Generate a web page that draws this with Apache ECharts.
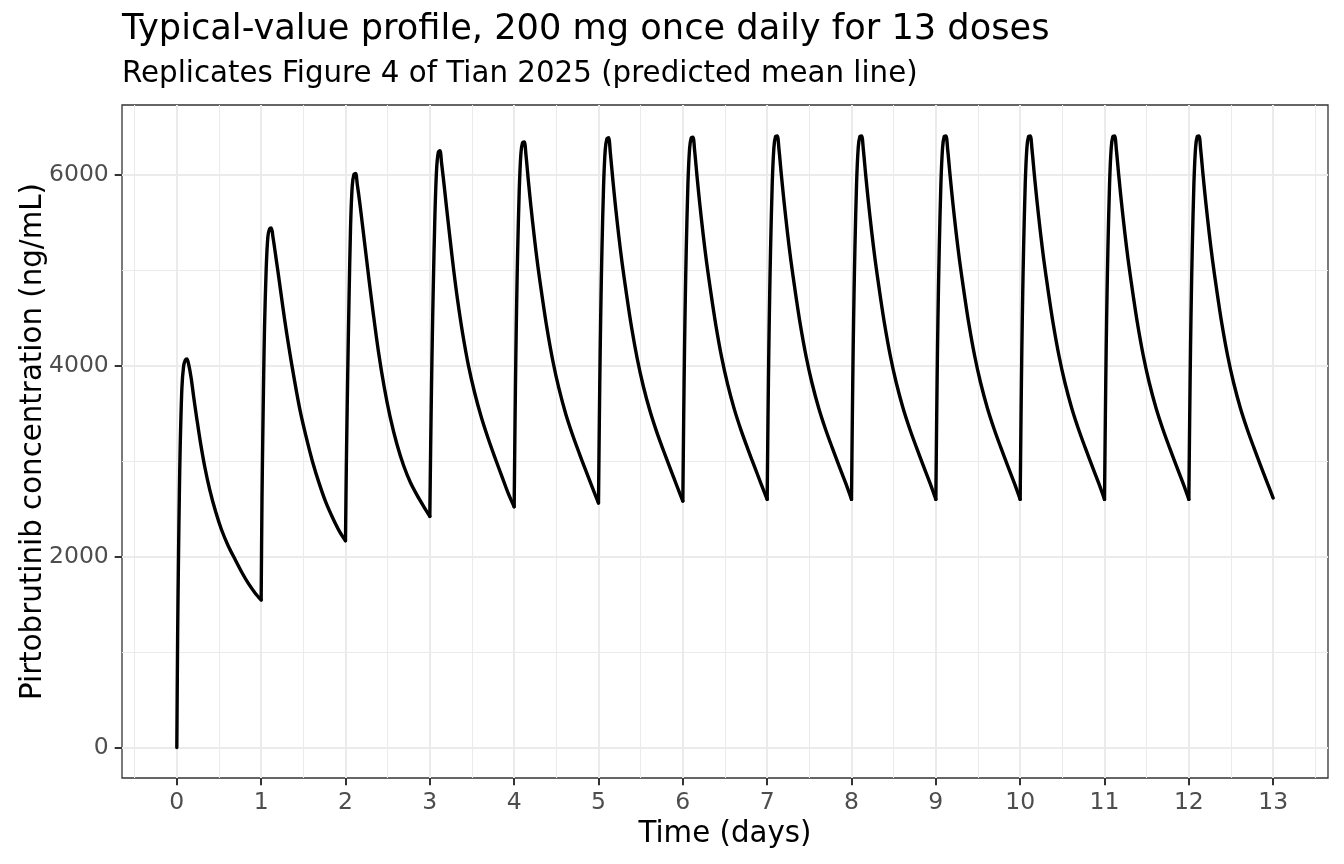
<!DOCTYPE html>
<html>
<head>
<meta charset="utf-8">
<title>Typical-value profile</title>
<script src="https://cdn.jsdelivr.net/npm/echarts@6/dist/echarts.min.js"></script>
<style>
  html, body { margin: 0; padding: 0; background: #fff; }
  #chart { width: 1344px; height: 864px; }
</style>
</head>
<body>
<div id="chart"></div>
<script>
// sample times inside each dosing interval (days after the dose)
const tau = [0, 0.01, 0.02, 0.03, 0.04, 0.06, 0.08, 0.10, 0.12, 0.14, 0.17, 0.20,
  0.24, 0.28, 0.33, 0.39, 0.46, 0.53, 0.61, 0.69, 0.77, 0.85, 0.93]

// day of each dose
const doseDays = [0, 1, 2, 3, 4, 5, 6, 7, 8, 9, 10, 11, 12]

// concentration (ng/mL), one row per dosing interval
const dose1 = [0, 1200, 2000, 2650, 3150, 3760, 3990, 4055, 4068, 4015, 3870, 3670, 3425, 3195, 2945, 2700, 2470, 2280, 2110, 1970, 1835, 1715, 1615]
const dose2 = [1545, 2600, 3300, 3900, 4400, 5020, 5350, 5430, 5440, 5345, 5165, 4978, 4722, 4470, 4185, 3870, 3535, 3265, 2990, 2760, 2560, 2400, 2260]
const dose3 = [2165, 2950, 3550, 4100, 4600, 5450, 5880, 6000, 6010, 5895, 5700, 5480, 5185, 4890, 4540, 4150, 3770, 3460, 3175, 2950, 2775, 2640, 2520]
const dose4 = [2420, 3150, 3780, 4320, 4780, 5560, 6050, 6230, 6250, 6115, 5885, 5640, 5325, 5020, 4680, 4330, 3990, 3720, 3460, 3240, 3040, 2850, 2660]
const dose5 = [2520, 3380, 4100, 4670, 5130, 5830, 6220, 6335, 6340, 6205, 5920, 5656, 5336, 5048, 4733, 4385, 4042, 3762, 3498, 3280, 3085, 2898, 2715]
const dose6 = [2560, 3420, 4150, 4715, 5175, 5875, 6260, 6375, 6385, 6232, 5945, 5680, 5360, 5073, 4758, 4410, 4068, 3788, 3525, 3305, 3110, 2922, 2738]
const dose7 = [2580, 3440, 4170, 4730, 5190, 5890, 6270, 6385, 6390, 6250, 5965, 5700, 5380, 5092, 4777, 4430, 4087, 3807, 3543, 3323, 3127, 2940, 2756]
const dose8 = [2598, 3455, 4185, 4745, 5205, 5905, 6285, 6400, 6405, 6265, 5980, 5716, 5396, 5108, 4793, 4445, 4102, 3822, 3558, 3338, 3142, 2954, 2770]
const dose9 = [2598, 3455, 4185, 4745, 5205, 5905, 6285, 6400, 6405, 6265, 5980, 5716, 5396, 5108, 4793, 4445, 4102, 3822, 3558, 3338, 3142, 2954, 2770]
const dose10 = [2598, 3455, 4185, 4745, 5205, 5905, 6285, 6400, 6405, 6265, 5980, 5716, 5396, 5108, 4793, 4445, 4102, 3822, 3558, 3338, 3142, 2954, 2770]
const dose11 = [2598, 3455, 4185, 4745, 5205, 5905, 6285, 6400, 6405, 6265, 5980, 5716, 5396, 5108, 4793, 4445, 4102, 3822, 3558, 3338, 3142, 2954, 2770]
const dose12 = [2598, 3455, 4185, 4745, 5205, 5905, 6285, 6400, 6405, 6265, 5980, 5716, 5396, 5108, 4793, 4445, 4102, 3822, 3558, 3338, 3142, 2954, 2770]
const dose13 = [2598, 3455, 4185, 4745, 5205, 5905, 6285, 6400, 6405, 6265, 5980, 5716, 5396, 5108, 4793, 4445, 4102, 3822, 3558, 3338, 3142, 2954, 2770]

// last sample at the end of the profile
const endTime = 13
const endConc = 2612

// axis ticks
const xTicks = [0, 1, 2, 3, 4, 5, 6, 7, 8, 9, 10, 11, 12, 13]
const xMinor = [-0.5, 0.5, 1.5, 2.5, 3.5, 4.5, 5.5, 6.5, 7.5, 8.5, 9.5, 10.5, 11.5, 12.5, 13.5]
const yTicks = [0, 2000, 4000, 6000]
const yMinor = [1000, 3000, 5000]

const font = '"DejaVu Sans", sans-serif'

// one smoothed piece per dosing interval, so the sharp dose kinks stay sharp
const doses = [dose1, dose2, dose3, dose4, dose5, dose6, dose7, dose8, dose9, dose10, dose11, dose12, dose13]
let series = []
doses.forEach((row, i) => {
  let pts = row.map((c, j) => [+(doseDays[i] + tau[j]).toFixed(3), c])
  // close the interval at the next trough (or the final sample)
  if (i < doses.length - 1) {
    pts.push([doseDays[i + 1], doses[i + 1][0]])
  } else {
    pts.push([endTime, endConc])
  }
  series.push({
    type: 'line',
    xAxisIndex: 0,
    yAxisIndex: 0,
    data: pts,
    showSymbol: false,
    symbol: 'none',
    smooth: 0.3,
    silent: true,
    z: 3,
    lineStyle: { color: '#000000', width: 3.4, join: 'round', cap: 'round' }
  })
})

const chart = echarts.init(document.getElementById('chart'))

const option = {
  animation: false,
  backgroundColor: '#ffffff',
  graphic: [
    {
      type: 'text', x: 122, y: 30.2,
      style: { text: 'Typical-value profile, 200 mg once daily for 13 doses', font: '35.2px ' + font, fill: '#000', align: 'left', verticalAlign: 'middle' }
    },
    {
      type: 'text', x: 122, y: 74,
      style: { text: 'Replicates Figure 4 of Tian 2025 (predicted mean line)', font: '29.3px ' + font, fill: '#000', align: 'left', verticalAlign: 'middle' }
    },
    {
      type: 'text', x: 725, y: 834.3,
      style: { text: 'Time (days)', font: '29.3px ' + font, fill: '#000', align: 'center', verticalAlign: 'middle' }
    },
    {
      type: 'text', x: 33.2, y: 441.5, rotation: Math.PI / 2,
      style: { text: 'Pirtobrutinib concentration (ng/mL)', font: '29.3px ' + font, fill: '#000', align: 'center', verticalAlign: 'middle' }
    }
  ],
  grid: {
    left: 122, right: 16, top: 105, bottom: 86,
    show: true, borderColor: '#333333', borderWidth: 1.3, backgroundColor: 'transparent'
  },
  xAxis: [
    {
      type: 'value', min: -0.65, max: 13.65,
      axisLine: { show: false, onZero: false },
      axisTick: { show: true, length: 7.3, customValues: xTicks, lineStyle: { color: '#333333', width: 2 } },
      axisLabel: { customValues: xTicks, margin: 13, color: '#4D4D4D', fontFamily: font, fontSize: 23.5, formatter: v => String(v) },
      splitLine: { show: true, lineStyle: { color: '#EBEBEB', width: 2 } }
    },
    {
      // only carries the minor grid lines
      type: 'value', min: -0.65, max: 13.65,
      axisLine: { show: false, onZero: false },
      axisTick: { show: false, customValues: xMinor },
      axisLabel: { show: false },
      splitLine: { show: true, lineStyle: { color: '#EBEBEB', width: 1.1 } }
    }
  ],
  yAxis: [
    {
      type: 'value', min: -320, max: 6728,
      axisLine: { show: false, onZero: false },
      axisTick: { show: true, length: 7.3, customValues: yTicks, lineStyle: { color: '#333333', width: 2 } },
      axisLabel: { customValues: yTicks, margin: 13.2, color: '#4D4D4D', fontFamily: font, fontSize: 23.5, formatter: v => String(v) },
      splitLine: { show: true, lineStyle: { color: '#EBEBEB', width: 2 } }
    },
    {
      type: 'value', min: -320, max: 6728,
      axisLine: { show: false, onZero: false },
      axisTick: { show: false, customValues: yMinor },
      axisLabel: { show: false },
      splitLine: { show: true, lineStyle: { color: '#EBEBEB', width: 1.1 } }
    }
  ],
  series: series
}

chart.setOption(option)
</script>
</body>
</html>
